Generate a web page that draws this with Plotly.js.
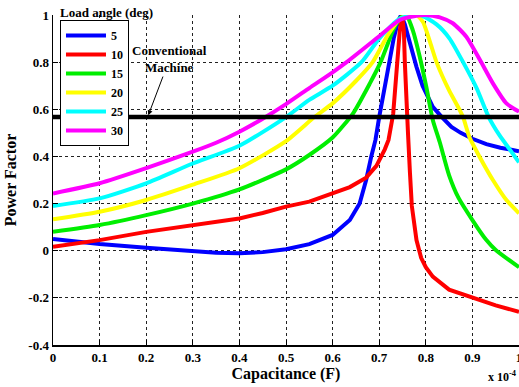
<!DOCTYPE html>
<html><head><meta charset="utf-8">
<script src="https://cdn.plot.ly/plotly-3.0.1.min.js"></script>
<style>html,body{margin:0;padding:0;background:#fff}#chart{width:519px;height:387px}</style>
</head><body><div id="chart"></div>
<script>
// Capacitance (x 1e-4 F) and power factor for each load angle
const loadAngles = ["5", "10", "15", "20", "25", "30"];
const colors = ["#0000ff", "#ff0000", "#00ee00", "#ffff00", "#00ffff", "#ff00ff"];

const x5 = [0, 0.1, 0.2, 0.3, 0.35, 0.4, 0.45, 0.5, 0.55, 0.6, 0.637, 0.658, 0.672, 0.683, 0.692, 0.70, 0.711, 0.722, 0.731, 0.74, 0.747, 0.755, 0.766, 0.78, 0.793, 0.815, 0.833, 0.855, 0.875, 0.9, 0.93, 0.96, 1.0];
const y5 = [0.05, 0.028, 0.013, -0.001, -0.009, -0.011, -0.006, 0.006, 0.028, 0.067, 0.13, 0.20, 0.30, 0.40, 0.47, 0.567, 0.69, 0.80, 0.90, 0.97, 1.0, 0.96, 0.88, 0.78, 0.70, 0.61, 0.57, 0.525, 0.50, 0.475, 0.452, 0.437, 0.422];

const x10 = [0, 0.1, 0.2, 0.3, 0.4, 0.45, 0.5, 0.55, 0.6, 0.637, 0.672, 0.694, 0.712, 0.72, 0.73, 0.737, 0.744, 0.749, 0.753, 0.755, 0.758, 0.762, 0.766, 0.77, 0.78, 0.79, 0.80, 0.815, 0.85, 0.9, 0.95, 1.0];
const y10 = [0.017, 0.045, 0.08, 0.109, 0.137, 0.16, 0.187, 0.208, 0.243, 0.27, 0.31, 0.36, 0.43, 0.47, 0.58, 0.78, 0.93, 1.0, 0.93, 0.80, 0.64, 0.49, 0.33, 0.19, 0.045, -0.03, -0.07, -0.11, -0.165, -0.2, -0.232, -0.259];

const x15 = [0, 0.1, 0.2, 0.3, 0.4, 0.5, 0.55, 0.6, 0.644, 0.68, 0.703, 0.73, 0.744, 0.758, 0.772, 0.787, 0.801, 0.815, 0.83, 0.85, 0.87, 0.9, 0.93, 0.95, 1.0];
const y15 = [0.08, 0.109, 0.151, 0.20, 0.26, 0.345, 0.406, 0.48, 0.583, 0.71, 0.80, 0.936, 0.985, 1.0, 0.936, 0.823, 0.696, 0.555, 0.46, 0.32, 0.225, 0.13, 0.045, 0.003, -0.07];

const x20 = [0, 0.1, 0.2, 0.3, 0.4, 0.5, 0.561, 0.6, 0.65, 0.686, 0.72, 0.745, 0.765, 0.78, 0.794, 0.81, 0.823, 0.85, 0.872, 0.88, 0.894, 0.915, 0.944, 0.973, 1.0];
const y20 = [0.133, 0.165, 0.215, 0.28, 0.35, 0.465, 0.567, 0.625, 0.72, 0.80, 0.92, 0.985, 0.998, 1.0, 0.97, 0.88, 0.80, 0.68, 0.60, 0.567, 0.48, 0.40, 0.30, 0.215, 0.159];

const x25 = [0, 0.1, 0.2, 0.3, 0.4, 0.5, 0.55, 0.6, 0.662, 0.7, 0.745, 0.787, 0.823, 0.851, 0.88, 0.909, 0.935, 0.958, 0.98, 1.0];
const y25 = [0.19, 0.222, 0.286, 0.37, 0.445, 0.567, 0.64, 0.70, 0.80, 0.90, 0.985, 1.0, 0.96, 0.90, 0.80, 0.69, 0.567, 0.49, 0.43, 0.375];

const x30 = [0, 0.1, 0.2, 0.3, 0.35, 0.4, 0.45, 0.5, 0.55, 0.6, 0.63, 0.7, 0.745, 0.78, 0.8, 0.83, 0.858, 0.887, 0.916, 0.944, 0.973, 1.0];
const y30 = [0.243, 0.286, 0.35, 0.42, 0.458, 0.505, 0.56, 0.622, 0.69, 0.757, 0.80, 0.91, 0.98, 0.997, 1.0, 0.99, 0.965, 0.908, 0.81, 0.71, 0.625, 0.59];

const conventionalX = [0, 1];
const conventionalPF = [0.567, 0.567];

const xTicks = [0, 0.1, 0.2, 0.3, 0.4, 0.5, 0.6, 0.7, 0.8, 0.9, 1];
const xTickText = ["0", "0.1", "0.2", "0.3", "0.4", "0.5", "0.6", "0.7", "0.8", "0.9", "1"];
const yTicks = [-0.4, -0.2, 0, 0.2, 0.4, 0.6, 0.8, 1];
const yTickText = ["-0.4", "-0.2", "0", "0.2", "0.4", "0.6", "0.8", "1"];

const xs = [x5, x10, x15, x20, x25, x30];
const ys = [y5, y10, y15, y20, y25, y30];
const smoothSeries = [false, false, true, true, true, true];

const FONT = "'Liberation Serif', 'Times New Roman', Times, serif";

const traces = loadAngles.map((name, i) => ({
  type: "scatter", mode: "lines", name: name,
  x: xs[i], y: ys[i],
  line: {color: colors[i], width: 4, shape: smoothSeries[i] ? "spline" : "linear", smoothing: 0.6}
}));
traces.push({
  type: "scatter", mode: "lines", name: "Conventional Machine", showlegend: false,
  x: conventionalX, y: conventionalPF,
  line: {color: "#000", width: 4.5}
});

const gridStyle = {showgrid: true, gridcolor: "#222", griddash: "3px,3px", gridwidth: 1};

const layout = {
  width: 519, height: 387,
  margin: {l: 53, r: 0, t: 15, b: 42},
  paper_bgcolor: "#fff", plot_bgcolor: "#fff",
  font: {family: FONT, color: "#000", size: 12, weight: "bold"},
  showlegend: true,
  legend: {
    x: 0.015, y: 0.985, xanchor: "left", yanchor: "top",
    bgcolor: "#fff", bordercolor: "#000", borderwidth: 1,
    font: {family: FONT, size: 12, color: "#000", weight: "bold"},
    tracegroupgap: 0, itemwidth: 40
  },
  xaxis: Object.assign({
    range: [0, 1], tickvals: xTicks, ticktext: xTickText,
    ticks: "inside", ticklen: 5, tickcolor: "#000",
    showline: true, linecolor: "#000", linewidth: 1.5, zeroline: false,
    ticklabeloverflow: "allow",
    tickfont: {family: FONT, size: 13, weight: "bold"},
    title: {text: "Capacitance (F)", font: {family: FONT, size: 16, weight: "bold"}, standoff: 1}
  }, gridStyle),
  yaxis: Object.assign({
    range: [-0.4, 1], tickvals: yTicks, ticktext: yTickText,
    ticks: "inside", ticklen: 5, tickcolor: "#000",
    showline: true, linecolor: "#000", linewidth: 1.5, zeroline: false,
    tickfont: {family: FONT, size: 13, weight: "bold"},
    title: {text: "Power Factor", font: {family: FONT, size: 16, weight: "bold"}, standoff: 7}
  }, gridStyle),
  annotations: [
    {xref: "paper", yref: "paper", x: 0.013, y: 1.009, xanchor: "left", yanchor: "middle",
     text: "Load angle (deg)", showarrow: false, borderpad: 0, font: {family: FONT, size: 13, weight: "bold"}},
    {xref: "x", yref: "y", x: 0.203, y: 0.567, ax: 22, ay: -58,
     text: "Conventional<br>Machine", showarrow: true, arrowhead: 2, arrowsize: 1, arrowwidth: 1,
     arrowcolor: "#000", standoff: 2, font: {family: FONT, size: 13, weight: "bold"}},
    {xref: "paper", yref: "paper", x: 1.0, y: -0.125, xanchor: "right", yanchor: "bottom",
     text: "x 10<sup>-4</sup>", showarrow: false, font: {family: FONT, size: 12, weight: "bold"}}
  ]
};

Plotly.newPlot("chart", traces, layout, {displayModeBar: false, staticPlot: true});
</script></body></html>
